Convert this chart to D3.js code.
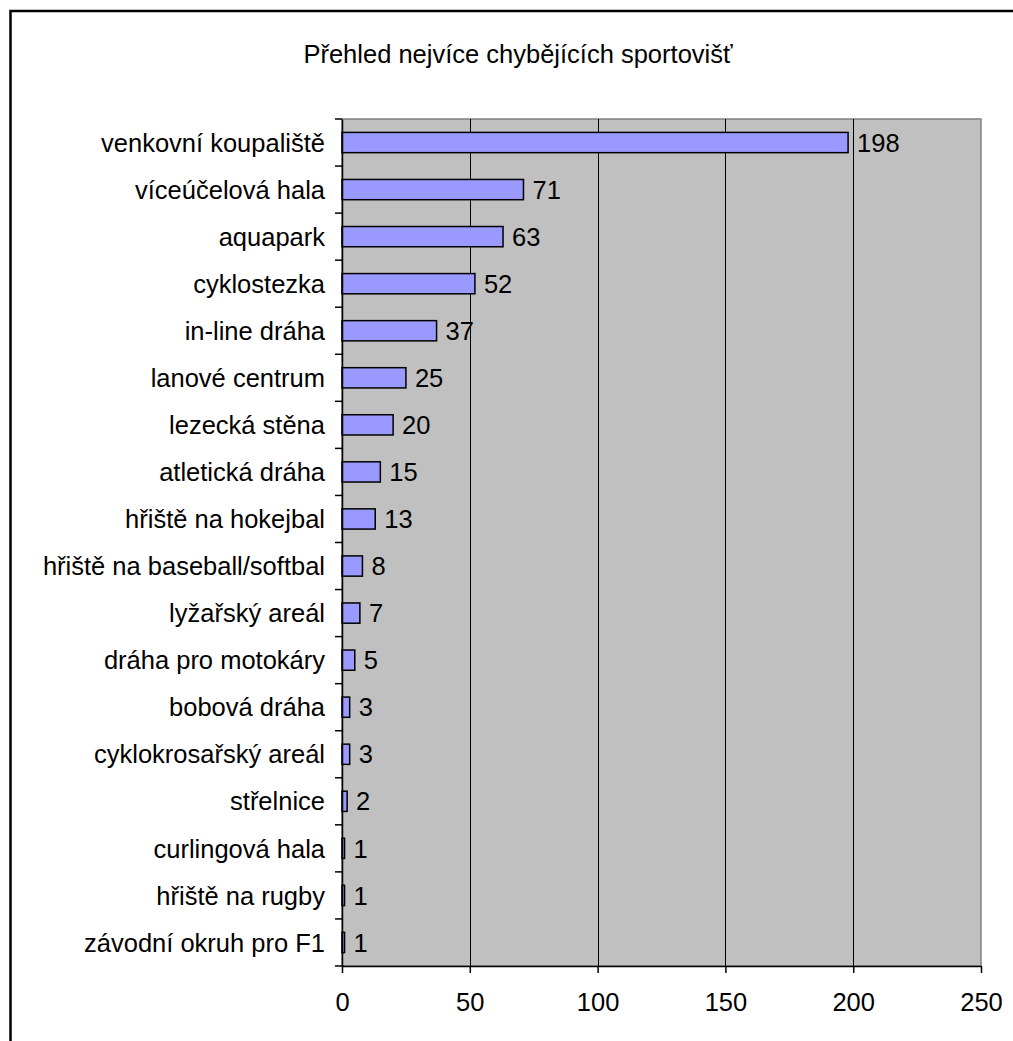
<!DOCTYPE html>
<html lang="cs">
<head>
    <meta charset="utf-8">
    <title>Přehled nejvíce chybějících sportovišť</title>
    <script src="https://d3js.org/d3.v7.min.js"></script>
    <style>
        body { margin: 0; background: #fff; }
        text { font-family: Arial, "Liberation Sans", sans-serif; fill: #000; }
        .bar { fill: #9999ff; stroke: #000; stroke-width: 1.5; }
        .grid { stroke: #000; stroke-width: 1; }
    </style>
</head>
<body>
<div id="chart"></div>
<script>
    const categories = ["venkovní koupaliště", "víceúčelová hala", "aquapark", "cyklostezka",
        "in-line dráha", "lanové centrum", "lezecká stěna", "atletická dráha", "hřiště na hokejbal",
        "hřiště na baseball/softbal", "lyžařský areál", "dráha pro motokáry", "bobová dráha",
        "cyklokrosařský areál", "střelnice", "curlingová hala", "hřiště na rugby", "závodní okruh pro F1"];
    const values = [198, 71, 63, 52, 37, 25, 20, 15, 13, 8, 7, 5, 3, 3, 2, 1, 1, 1];
    const xTicks = [0, 50, 100, 150, 200, 250];
    const title = "Přehled nejvíce chybějících sportovišť";

    const w = 1013, h = 1041;
    const plot = {left: 342, right: 981, top: 119, bottom: 966};
    const fs = "25.5px";

    const svg = d3.select("#chart").append("svg").attr("width", w).attr("height", h);

    // outer frame (runs off the right and bottom edge)
    svg.append("rect").attr("x", 10.5).attr("y", 11).attr("width", 1200).attr("height", 1200)
        .attr("fill", "none").attr("stroke", "#000").attr("stroke-width", 2.5);

    const x = d3.scaleLinear().domain([0, 250]).range([plot.left, plot.right]);
    const y = d3.scaleBand().domain(categories).range([plot.top, plot.bottom]).paddingInner(0.57).paddingOuter(0.285);

    svg.append("text").attr("x", 518).attr("y", 63).attr("text-anchor", "middle")
        .style("font-size", fs).text(title);

    // plot background
    svg.append("rect").attr("x", plot.left).attr("y", plot.top)
        .attr("width", plot.right - plot.left).attr("height", plot.bottom - plot.top)
        .attr("fill", "#c0c0c0").attr("stroke", "#808080").attr("stroke-width", 1.5);

    // vertical gridlines
    svg.selectAll("line.grid").data(xTicks.slice(1, -1)).enter().append("line")
        .attr("class", "grid")
        .attr("x1", d => Math.round(x(d)) + 0.5).attr("x2", d => Math.round(x(d)) + 0.5)
        .attr("y1", plot.top).attr("y2", plot.bottom);

    svg.selectAll("rect.bar").data(values).enter().append("rect")
        .attr("class", "bar")
        .attr("x", x(0))
        .attr("y", (d, i) => y(categories[i]))
        .attr("width", d => x(d) - x(0))
        .attr("height", y.bandwidth());

    svg.selectAll("text.val").data(values).enter().append("text")
        .attr("class", "val")
        .attr("x", d => x(d) + 9)
        .attr("y", (d, i) => y(categories[i]) + y.bandwidth() / 2)
        .attr("dy", "0.36em")
        .style("font-size", fs)
        .text(d => d);

    // y axis
    const yAxis = d3.axisLeft(d3.scaleBand().domain(categories).range([plot.top, plot.bottom]))
        .tickSize(0).tickPadding(17);
    const gy = svg.append("g").attr("transform", `translate(${plot.left},0)`).call(yAxis);
    gy.select(".domain").attr("stroke", "#000").attr("stroke-width", 1.5);
    gy.selectAll("text").style("font-size", fs).attr("dy", "0.36em");
    // category separator ticks
    const band = (plot.bottom - plot.top) / categories.length;
    gy.selectAll("line.sep").data(d3.range(categories.length + 1)).enter().append("line")
        .attr("x1", -7).attr("x2", 0)
        .attr("y1", i => plot.top + i * band).attr("y2", i => plot.top + i * band)
        .attr("stroke", "#000").attr("stroke-width", 1.5);

    // x axis
    const xAxis = d3.axisBottom(x).tickValues(xTicks).tickSize(7).tickPadding(20).tickSizeOuter(0);
    const gx = svg.append("g").attr("transform", `translate(0,${plot.bottom})`).call(xAxis);
    gx.select(".domain").attr("stroke", "#000").attr("stroke-width", 1.5);
    gx.selectAll(".tick line").attr("stroke", "#000").attr("stroke-width", 1.5);
    gx.selectAll("text").style("font-size", fs).attr("font-family", null);
</script>
</body>
</html>
